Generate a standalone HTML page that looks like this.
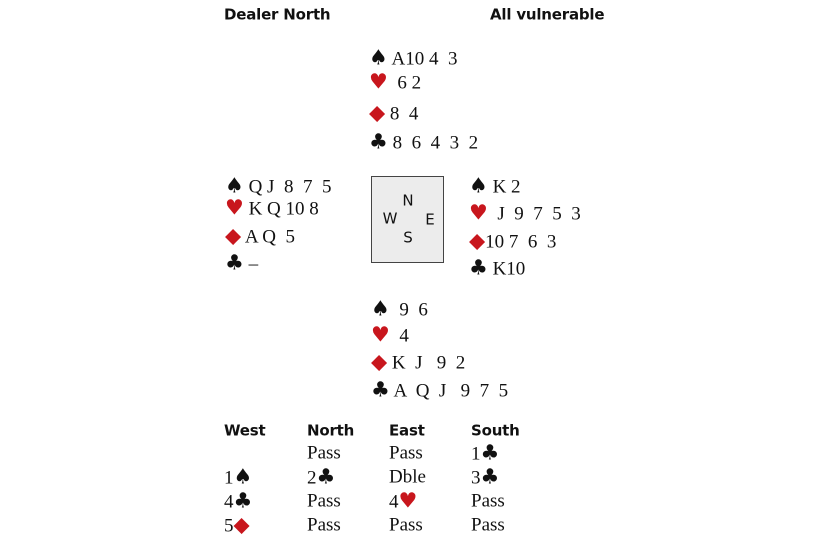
<!DOCTYPE html>
<html><head><style>
body{margin:0;width:830px;height:550px;background:#fff;position:relative;overflow:hidden}
.t{position:absolute;font-family:"Liberation Serif",serif;font-size:19px;color:#111;white-space:pre;line-height:1;transform:translateY(-50%)}
.b{position:absolute;font-family:"DejaVu Sans","Liberation Sans",sans-serif;font-weight:bold;font-size:15px;color:#111;white-space:pre;line-height:1;transform:translateY(-50%);letter-spacing:-0.2px}
.r{color:#c8161d}
.s{font-family:"DejaVu Sans",sans-serif;font-size:21px}
.box{position:absolute;left:371px;top:176px;width:71px;height:85px;background:#ececec;border:1.5px solid #444}
.c{position:absolute;font-family:"DejaVu Sans",sans-serif;font-size:15px;color:#111;line-height:1;transform:translate(-50%,-50%)}
</style></head><body>
<div class="b" style="left:224px;top:15px">Dealer North</div>
<div class="b" style="left:490px;top:15px">All vulnerable</div>

<div class="t" style="left:369px;top:58px"><span class="s">♠</span> A10 4  3</div>
<div class="t" style="left:369px;top:82px"><span class="s r">♥</span>  6 2</div>
<div class="t" style="left:369px;top:113px"><span class="s r">◆</span> 8  4</div>
<div class="t" style="left:369px;top:142px"><span class="s">♣</span> 8  6  4  3  2</div>

<div class="t" style="left:225px;top:186px"><span class="s">♠</span> Q J  8  7  5</div>
<div class="t" style="left:225px;top:208px"><span class="s r">♥</span> K Q 10 8</div>
<div class="t" style="left:225px;top:236px"><span class="s r">◆</span> A Q  5</div>
<div class="t" style="left:225px;top:263px"><span class="s">♣</span> –</div>

<div class="box"></div>
<div class="c" style="left:408px;top:201px">N</div>
<div class="c" style="left:390px;top:219px">W</div>
<div class="c" style="left:430px;top:220px">E</div>
<div class="c" style="left:408px;top:238px">S</div>

<div class="t" style="left:469px;top:186px"><span class="s">♠</span> K 2</div>
<div class="t" style="left:469px;top:213px"><span class="s r">♥</span>  J  9  7  5  3</div>
<div class="t" style="left:469px;top:241px"><span class="s r">◆</span>10 7  6  3</div>
<div class="t" style="left:469px;top:268px"><span class="s">♣</span> K10</div>

<div class="t" style="left:371px;top:309px"><span class="s">♠</span>  9  6</div>
<div class="t" style="left:371px;top:335px"><span class="s r">♥</span>  4</div>
<div class="t" style="left:371px;top:362px"><span class="s r">◆</span> K  J   9  2</div>
<div class="t" style="left:371px;top:390px"><span class="s">♣</span> A  Q  J   9  7  5</div>

<div class="b" style="left:224px;top:431px">West</div>
<div class="b" style="left:307px;top:431px">North</div>
<div class="b" style="left:389px;top:431px">East</div>
<div class="b" style="left:471px;top:431px">South</div>

<div class="t" style="left:307px;top:453px">Pass</div>
<div class="t" style="left:389px;top:453px">Pass</div>
<div class="t" style="left:471px;top:453px">1<span class="s">♣</span></div>

<div class="t" style="left:224px;top:477px">1<span class="s">♠</span></div>
<div class="t" style="left:307px;top:477px">2<span class="s">♣</span></div>
<div class="t" style="left:389px;top:477px">Dble</div>
<div class="t" style="left:471px;top:477px">3<span class="s">♣</span></div>

<div class="t" style="left:224px;top:501px">4<span class="s">♣</span></div>
<div class="t" style="left:307px;top:501px">Pass</div>
<div class="t" style="left:389px;top:501px">4<span class="s r">♥</span></div>
<div class="t" style="left:471px;top:501px">Pass</div>

<div class="t" style="left:224px;top:525px">5<span class="s r">◆</span></div>
<div class="t" style="left:307px;top:525px">Pass</div>
<div class="t" style="left:389px;top:525px">Pass</div>
<div class="t" style="left:471px;top:525px">Pass</div>
</body></html>
